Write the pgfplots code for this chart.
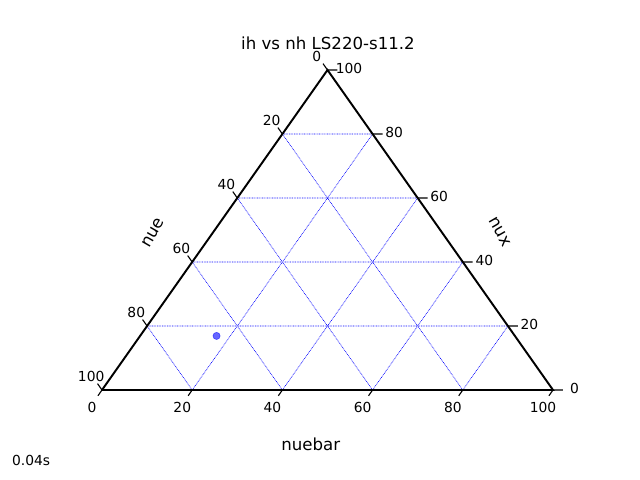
\documentclass[border=0pt]{standalone}
\usepackage{pgfplots}
\pgfplotsset{compat=1.18}
\usepackage{fontspec}
\setmainfont{DejaVu Sans}
\begin{document}
\begin{tikzpicture}
\begin{axis}[
  width=6.4in, height=4.8in, scale only axis,
  xmin=-22.616, xmax=119.29, ymin=-28.125, ymax=121.875,
  hide axis, clip=false, unbounded coords=jump,
]
\path[draw=none] (rel axis cs:0,0) rectangle (rel axis cs:1,1);
% gridlines (cartesian: X = nuebar + nux/2, Y = nux)
\addplot[blue, line width=0.45pt, dash pattern=on 0.6pt off 0.6pt] coordinates {
 (10,20) (90,20) (nan,nan)
 (20,40) (80,40) (nan,nan)
 (30,60) (70,60) (nan,nan)
 (40,80) (60,80) (nan,nan)
 (20,0) (60,80) (nan,nan)
 (40,0) (70,60) (nan,nan)
 (60,0) (80,40) (nan,nan)
 (80,0) (90,20) (nan,nan)
 (80,0) (40,80) (nan,nan)
 (60,0) (30,60) (nan,nan)
 (40,0) (20,40) (nan,nan)
 (20,0) (10,20)
};
% triangle
\addplot[black, line width=1.4pt] coordinates {(0,0) (100,0) (50,100) (0,0)};
% ticks
\addplot[black, line width=0.8pt] coordinates {
 (0,0) (-0.9,-1.8) (nan,nan) (20,0) (19.1,-1.8) (nan,nan) (40,0) (39.1,-1.8) (nan,nan)
 (60,0) (59.1,-1.8) (nan,nan) (80,0) (79.1,-1.8) (nan,nan) (100,0) (99.1,-1.8) (nan,nan)
 (50,100) (49,102) (nan,nan) (40,80) (39,82) (nan,nan) (30,60) (29,62) (nan,nan)
 (20,40) (19,42) (nan,nan) (10,20) (9,22) (nan,nan) (0,0) (-1,2) (nan,nan)
 (50,100) (52.2,100) (nan,nan) (60,80) (62.2,80) (nan,nan) (70,60) (72.2,60) (nan,nan)
 (80,40) (82.2,40) (nan,nan) (90,20) (92.2,20) (nan,nan) (100,0) (102.2,0)
};
% point
\addplot[only marks, mark=*, mark size=2.6pt, color=blue, opacity=0.6] coordinates {(25.4,16.9)};
% tick labels
\begin{scope}[font=\fontsize{10}{12}\selectfont]
\node at (axis cs:-2.2,-5.6) {0};
\node at (axis cs:17.8,-5.6) {20};
\node at (axis cs:37.8,-5.6) {40};
\node at (axis cs:57.8,-5.6) {60};
\node at (axis cs:77.8,-5.6) {80};
\node at (axis cs:97.8,-5.6) {100};
\node at (axis cs:47.6,104.3) {0};
\node at (axis cs:37.6,84.3) {20};
\node at (axis cs:27.6,64.3) {40};
\node at (axis cs:17.6,44.3) {60};
\node at (axis cs:7.6,24.3) {80};
\node at (axis cs:-2.4,4.3) {100};
\node at (axis cs:54.77,100.6) {100};
\node at (axis cs:64.77,80.6) {80};
\node at (axis cs:74.77,60.6) {60};
\node at (axis cs:84.77,40.6) {40};
\node at (axis cs:94.77,20.6) {20};
\node at (axis cs:104.77,0.6) {0};
\node at (axis cs:-15.7,-21.9) {0.04s};
\end{scope}
\begin{scope}[font=\fontsize{12}{14}\selectfont]
\node[rotate=60] at (axis cs:11.3,49.1) {nue};
\node[rotate=-60] at (axis cs:88.2,49.4) {nux};
\node at (axis cs:46.3,-16.9) {nuebar};
\node at (axis cs:50.1,108.4) {ih vs nh LS220-s11.2};
\end{scope}
\end{axis}
\end{tikzpicture}
\end{document}
